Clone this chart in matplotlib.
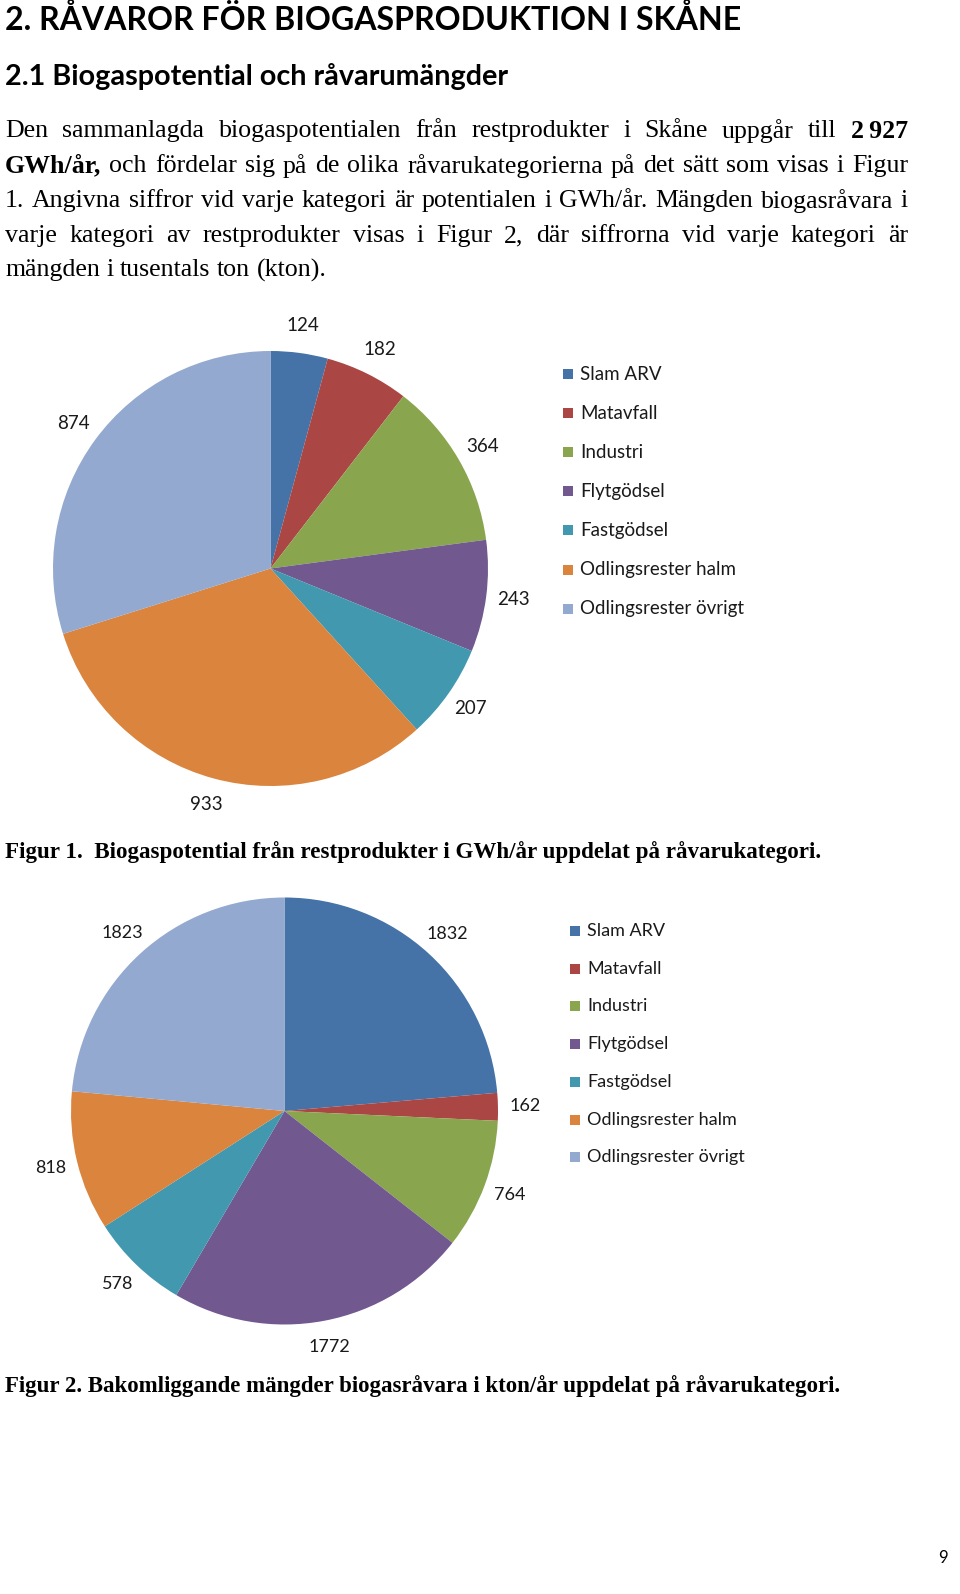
import matplotlib
matplotlib.use("Agg")
import matplotlib.pyplot as plt
from matplotlib.patches import Rectangle

# Data
categories = ["Slam ARV", "Matavfall", "Industri", "Flytgödsel", "Fastgödsel",
              "Odlingsrester halm", "Odlingsrester övrigt"]
colors = ["#4572A7", "#AA4643", "#89A54E", "#71588F", "#4198AF", "#DB843D", "#93A9CF"]
potential_gwh = [124, 182, 364, 243, 207, 933, 874]
amount_kton = [1832, 162, 764, 1772, 578, 818, 1823]

title = "2. RÅVAROR FÖR BIOGASPRODUKTION I SKÅNE"
subtitle = "2.1 Biogaspotential och råvarumängder"
paragraph = [
    ["Den", "sammanlagda", "biogaspotentialen", "från", "restprodukter", "i", "Skåne", "uppgår", "till", "**2\u2009927"],
    ["**GWh/år,", "och", "fördelar", "sig", "på", "de", "olika", "råvarukategorierna", "på", "det", "sätt", "som", "visas", "i", "Figur"],
    ["1.", "Angivna", "siffror", "vid", "varje", "kategori", "är", "potentialen", "i", "GWh/år.", "Mängden", "biogasråvara", "i"],
    ["varje", "kategori", "av", "restprodukter", "visas", "i", "Figur", "2,", "där", "siffrorna", "vid", "varje", "kategori", "är"],
    ["mängden", "i", "tusentals", "ton", "(kton)."],
]
caption1 = "Figur 1.  Biogaspotential från restprodukter i GWh/år uppdelat på råvarukategori."
caption2 = "Figur 2. Bakomliggande mängder biogasråvara i kton/år uppdelat på råvarukategori."

W, H = 960, 1594
fig = plt.figure(figsize=(W / 100, H / 100), dpi=100)
fig.patch.set_facecolor("white")
renderer = fig.canvas.get_renderer()


def fy(y):
    return 1 - y / H


def text_width(t):
    return t.get_window_extent(renderer=renderer).width


def fit_text(x, y, s, width, size=20, **kw):
    t = fig.text(x / W, fy(y), s, fontsize=size, va="center", ha="left", **kw)
    t.set_fontsize(size * width / text_width(t))
    return t


# headings
fit_text(5, 20, title, 737, family="Lato", weight="bold")
fit_text(5, 77, subtitle, 502, family="Lato", weight="bold")

# justified paragraph
serif = "Liberation Serif"
line_y = [131, 166, 201, 236, 270]
left, right = 5, 908


def make_word(w, size):
    bold = w.startswith("**")
    s = w[2:] if bold else w
    return fig.text(0, 0, s, fontsize=size, family=serif,
                    weight="bold" if bold else "normal", va="center", ha="left")


size = 18
probe = fig.text(0, 0, "a b", fontsize=size, family=serif)
space = text_width(probe) - text_width(fig.text(0, 0, "ab", fontsize=size, family=serif))
natural = []
for line in paragraph:
    ws = [make_word(w, size) for w in line]
    natural.append(sum(text_width(t) for t in ws) + space * (len(ws) - 1))
    for t in ws:
        t.remove()
probe.remove()
for t in list(fig.texts):
    t.remove()
fit_text(5, 20, title, 737, family="Lato", weight="bold")
fit_text(5, 77, subtitle, 502, family="Lato", weight="bold")
size = size * (right - left) * 0.985 / max(natural)
space *= size / 18

for i, line in enumerate(paragraph):
    ws = [make_word(w, size) for w in line]
    widths = [text_width(t) for t in ws]
    if i < len(paragraph) - 1:
        gap = (right - left - sum(widths)) / (len(ws) - 1)
    else:
        gap = space
    x = left
    for t, wdt in zip(ws, widths):
        t.set_position((x / W, fy(line_y[i])))
        x += wdt + gap

# captions
fit_text(5, 852, caption1, 817, family=serif, weight="bold")
fit_text(5, 1386, caption2, 835, family=serif, weight="bold")

fig.text(938 / W, fy(1558), "9", fontsize=12, family="Lato", va="center", ha="left")


def draw_pie(values, cx, cy, r, leg_x, leg_y, leg_dy, fs):
    ax = fig.add_axes([(cx - r) / W, fy(cy + r), 2 * r / W, 2 * r / H])
    wedges, texts = ax.pie(values, colors=colors, startangle=90, counterclock=False,
                           labels=[str(v) for v in values], labeldistance=1.125,
                           wedgeprops=dict(linewidth=0),
                           textprops=dict(fontsize=fs, family="Lato", color="#1a1a1a"))
    for t in texts:
        t.set_ha("center")
        t.set_va("center")
    ax.set_xlim(-1, 1)
    ax.set_ylim(-1, 1)
    ax.set_aspect("auto")
    ax.axis("off")
    for k, (name, c) in enumerate(zip(categories, colors)):
        y = leg_y + k * leg_dy
        fig.patches.append(Rectangle(((leg_x) / W, fy(y + 5)), 10 / W, 10 / H,
                                     transform=fig.transFigure, facecolor=c,
                                     edgecolor="none"))
        fig.text((leg_x + 17) / W, fy(y), name, fontsize=fs, family="Lato",
                 color="#1a1a1a", va="center", ha="left")


draw_pie(potential_gwh, 270.5, 568.5, 217.5, 563, 374, 39.1, 13.5)
draw_pie(amount_kton, 284.5, 1111, 213.5, 570, 931, 37.7, 13)

fig.savefig("out.png", dpi=100, facecolor="white")
